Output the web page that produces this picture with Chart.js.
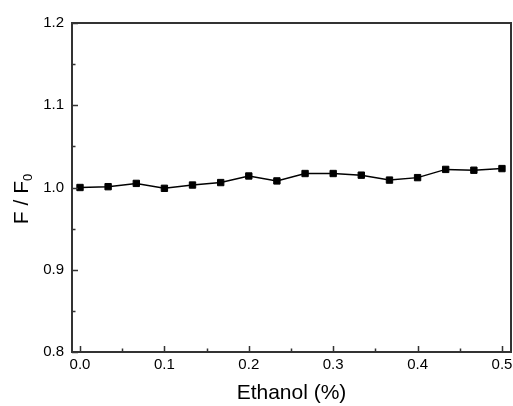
<!DOCTYPE html>
<html>
<head>
<meta charset="utf-8">
<script src="https://cdn.jsdelivr.net/npm/chart.js@4/dist/chart.umd.min.js"></script>
<style>
  html, body { margin: 0; padding: 0; background: #ffffff; }
  #wrap { width: 513px; height: 406px; }
</style>
</head>
<body>
<div id="wrap"><canvas id="c" width="513" height="406"></canvas></div>
<script>
// ---- data ----
const ethanol = [0, 0.0333, 0.0667, 0.1, 0.1333, 0.1667, 0.2, 0.2333, 0.2667, 0.3, 0.3333, 0.3667, 0.4, 0.4333, 0.4667, 0.5];
const ratio   = [1.000, 1.001, 1.005, 0.999, 1.003, 1.006, 1.014, 1.008, 1.017, 1.017, 1.015, 1.009, 1.012, 1.022, 1.021, 1.023];
const xTickValues = [0, 0.1, 0.2, 0.3, 0.4, 0.5];
const xTickLabels = ['0.0', '0.1', '0.2', '0.3', '0.4', '0.5'];
const xMinorValues = [0.05, 0.15, 0.25, 0.35, 0.45];
const yTickValues = [0.8, 0.9, 1.0, 1.1, 1.2];
const yMinorValues = [0.85, 0.95, 1.05, 1.15];
const xTitle = 'Ethanol (%)';
const yTitleMain = 'F / F';
const yTitleSub = '0';

const FONT = "'Liberation Sans', Arial, sans-serif";
const AXIS_COLOR = '#333333';

const frame = {
  id: 'frame',
  afterDraw(chart) {
    const {ctx, chartArea: a, scales: {x, y}} = chart;
    ctx.save();
    ctx.strokeStyle = AXIS_COLOR;
    ctx.lineWidth = 2;
    ctx.strokeRect(a.left, a.top, a.right - a.left, a.bottom - a.top);
    ctx.lineWidth = 1.5;
    ctx.beginPath();
    xTickValues.forEach(v => { const p = Math.round(x.getPixelForValue(v)) + 0.5; ctx.moveTo(p, a.bottom); ctx.lineTo(p, a.bottom - 6); });
    xMinorValues.forEach(v => { const p = Math.round(x.getPixelForValue(v)) + 0.5; ctx.moveTo(p, a.bottom); ctx.lineTo(p, a.bottom - 3.5); });
    yTickValues.forEach(v => { const p = Math.round(y.getPixelForValue(v)) + 0.5; ctx.moveTo(a.left, p); ctx.lineTo(a.left + 6, p); });
    yMinorValues.forEach(v => { const p = Math.round(y.getPixelForValue(v)) + 0.5; ctx.moveTo(a.left, p); ctx.lineTo(a.left + 3.5, p); });
    ctx.stroke();

    // x tick labels, positioned by the x scale
    ctx.fillStyle = '#000000';
    ctx.font = '15px ' + FONT;
    ctx.textAlign = 'center';
    ctx.textBaseline = 'middle';
    xTickValues.forEach((v, i) => ctx.fillText(xTickLabels[i], x.getPixelForValue(v), a.bottom + 13));

    // y-axis title with subscript
    ctx.translate(28, 199);
    ctx.rotate(-Math.PI / 2);
    ctx.font = '21px ' + FONT;
    const wMain = ctx.measureText(yTitleMain).width;
    ctx.font = '13px ' + FONT;
    const wSub = ctx.measureText(yTitleSub).width;
    const total = wMain + wSub;
    ctx.textBaseline = 'alphabetic';
    ctx.textAlign = 'left';
    ctx.font = '21px ' + FONT;
    ctx.fillText(yTitleMain, -total / 2, 0);
    ctx.font = '13px ' + FONT;
    ctx.fillText(yTitleSub, -total / 2 + wMain, 4);
    ctx.restore();
  }
};

new Chart(document.getElementById('c'), {
  type: 'line',
  data: {
    datasets: [{
      data: ethanol.map((v, i) => ({x: v, y: ratio[i]})),
      borderColor: '#000000',
      backgroundColor: '#000000',
      borderWidth: 1.5,
      tension: 0,
      pointStyle: 'rect',
      pointRadius: 4.5,
      pointBorderWidth: 1,
      pointBackgroundColor: '#000000',
      pointBorderColor: '#000000'
    }]
  },
  options: {
    responsive: false,
    animation: false,
    layout: { autoPadding: false, padding: { top: 23, right: 2, left: 0, bottom: 0 } },
    plugins: { legend: { display: false }, tooltip: { enabled: false } },
    scales: {
      x: {
        type: 'linear',
        min: -0.0095,
        max: 0.5107,
        afterBuildTicks: s => { s.ticks = xTickValues.map(v => ({value: v})); },
        afterFit: s => { s.height = 54; },
        grid: { display: false, drawTicks: false },
        border: { display: false },
        ticks: { display: false },
        title: {
          display: true,
          text: xTitle,
          color: '#000000',
          font: { family: FONT, size: 21 },
          padding: { top: 0, bottom: 0 }
        }
      },
      y: {
        type: 'linear',
        min: 0.8,
        max: 1.2,
        afterBuildTicks: s => { s.ticks = yTickValues.map(v => ({value: v})); },
        afterFit: s => { s.width = 72; },
        grid: { display: false, drawTicks: false },
        border: { display: false },
        ticks: {
          padding: 8,
          color: '#000000',
          font: { family: FONT, size: 15 },
          callback: v => Number(v).toFixed(1)
        }
      }
    }
  },
  plugins: [frame]
});
</script>
</body>
</html>
